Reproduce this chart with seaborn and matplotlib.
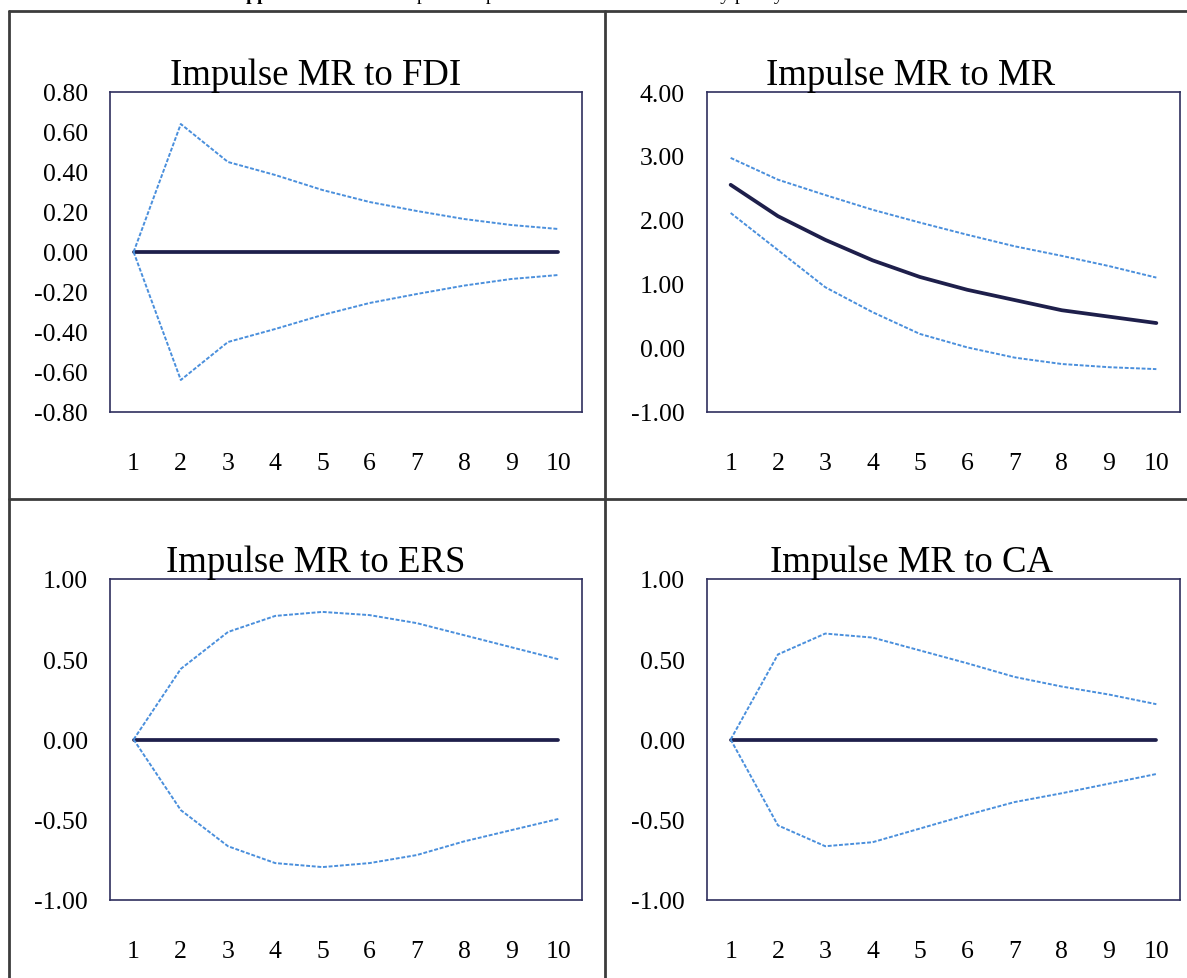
import numpy as np
import pandas as pd
import matplotlib
matplotlib.use("Agg")
import matplotlib.pyplot as plt
from matplotlib.lines import Line2D
from matplotlib.ticker import FormatStrFormatter
import seaborn as sns

# periods and responses
periods = list(range(1, 11))

fdi_resp = [0.0] * 10
fdi_upper = [0.0, 0.64, 0.45, 0.385, 0.31, 0.25, 0.205, 0.165, 0.135, 0.115]
fdi_lower = [0.0, -0.64, -0.45, -0.385, -0.315, -0.255, -0.21, -0.168, -0.135, -0.115]

mr_resp = [2.55, 2.06, 1.69, 1.37, 1.11, 0.91, 0.75, 0.59, 0.49, 0.39]
mr_upper = [2.97, 2.63, 2.39, 2.16, 1.96, 1.77, 1.59, 1.44, 1.28, 1.10]
mr_lower = [2.11, 1.53, 0.95, 0.56, 0.22, 0.01, -0.15, -0.25, -0.30, -0.33]

ers_resp = [0.0] * 10
ers_upper = [0.0, 0.44, 0.67, 0.77, 0.795, 0.775, 0.725, 0.65, 0.575, 0.50]
ers_lower = [0.0, -0.44, -0.665, -0.77, -0.795, -0.77, -0.72, -0.635, -0.565, -0.495]

ca_resp = [0.0] * 10
ca_upper = [0.0, 0.53, 0.66, 0.635, 0.555, 0.475, 0.39, 0.33, 0.28, 0.22]
ca_lower = [0.0, -0.535, -0.665, -0.64, -0.555, -0.47, -0.39, -0.335, -0.275, -0.215]

titles = ["Impulse MR to FDI", "Impulse MR to MR", "Impulse MR to ERS", "Impulse MR to CA"]
yticks = [[-0.8, -0.6, -0.4, -0.2, 0.0, 0.2, 0.4, 0.6, 0.8],
          [-1.0, 0.0, 1.0, 2.0, 3.0, 4.0],
          [-1.0, -0.5, 0.0, 0.5, 1.0],
          [-1.0, -0.5, 0.0, 0.5, 1.0]]
panels = [(fdi_resp, fdi_upper, fdi_lower), (mr_resp, mr_upper, mr_lower),
          (ers_resp, ers_upper, ers_lower), (ca_resp, ca_upper, ca_lower)]

sns.set_style("white")
plt.rcParams["font.family"] = ["Liberation Serif", "DejaVu Serif"]
plt.rcParams["text.color"] = "black"
plt.rcParams["xtick.color"] = "black"
plt.rcParams["ytick.color"] = "black"

W, H = 1187, 979
fig = plt.figure(figsize=(W / 100, H / 100), dpi=100)

# axes boxes in pixels: left, top, right, bottom
boxes = [(110, 93, 582, 413), (707, 93, 1180, 413),
         (110, 580, 582, 901), (707, 580, 1180, 901)]
title_cx = [316, 911, 316, 911]

navy = "#1e1f4b"
blue = "#4a8fdc"

for i, (l, t, r, b) in enumerate(boxes):
    ax = fig.add_axes([l / W, 1 - b / H, (r - l) / W, (b - t) / H])
    resp, up, lo = panels[i]
    df = pd.DataFrame({
        "period": periods * 3,
        "value": resp + up + lo,
        "series": ["resp"] * 10 + ["upper"] * 10 + ["lower"] * 10,
    })
    sns.lineplot(data=df, x="period", y="value", hue="series", style="series",
                 size="series",
                 palette={"resp": navy, "upper": blue, "lower": blue},
                 dashes={"resp": "", "upper": (2.0, 0.9), "lower": (2.0, 0.9)},
                 sizes={"resp": 2.7, "upper": 1.4, "lower": 1.4},
                 legend=False, ax=ax)
    ax.set_xlim(0.5, 10.5)
    ax.set_ylim(yticks[i][0], yticks[i][-1])
    ax.set_xticks(periods)
    ax.set_yticks(yticks[i])
    ax.yaxis.set_major_formatter(FormatStrFormatter("%.2f"))
    ax.set_xlabel("")
    ax.set_ylabel("")
    ax.tick_params(axis="y", length=0, pad=16, labelsize=18.5)
    ax.tick_params(axis="x", length=0, pad=29, labelsize=18.5)
    for s in ax.spines.values():
        s.set_visible(True)
        s.set_color("#2f2f5e")
        s.set_linewidth(1.2)
    fig.text(title_cx[i] / W, 1 - (t - 8) / H, titles[i], ha="center",
             va="baseline", fontsize=26.5)

# table rules around the cells
rule = dict(color="#3c3c3c", linewidth=2.0, transform=fig.transFigure)
fig.add_artist(Line2D([9 / W, 1], [1 - 12 / H, 1 - 12 / H], **rule))
fig.add_artist(Line2D([9 / W, 1], [1 - 500 / H, 1 - 500 / H], **rule))
fig.add_artist(Line2D([9 / W, 9 / W], [0, 1 - 12 / H], **rule))
fig.add_artist(Line2D([605 / W, 605 / W], [0, 1 - 12 / H], **rule))

# caption above the table, cut off at the top edge as in the source
fig.text(232 / W, 1.0, "Appendix 1:", ha="left", va="baseline",
         fontsize=14, fontweight="bold")
fig.text(395 / W, 1.0, "Impulse response function of the monetary policy rate",
         ha="left", va="baseline", fontsize=14)

fig.savefig("out.png", dpi=100)
